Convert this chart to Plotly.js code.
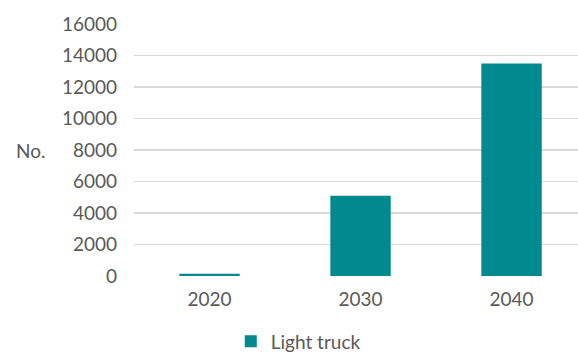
<!DOCTYPE html>
<html>
<head>
<meta charset="utf-8">
<script src="https://cdn.plot.ly/plotly-3.0.1.min.js"></script>
<style>html,body{margin:0;padding:0;background:#fff;}#chart{width:578px;height:356px;}</style>
</head>
<body>
<div id="chart"></div>
<script>
const categories = ["2020", "2030", "2040"];
const lightTruck = [150, 5100, 13500];
const yTicks = [0, 2000, 4000, 6000, 8000, 10000, 12000, 14000, 16000];
const seriesName = "Light truck";
const yTitle = "No.";

const font = {family: "Lato, 'Open Sans', sans-serif", size: 19, color: "#595959"};

Plotly.newPlot("chart", [{
  type: "bar",
  x: categories,
  y: lightTruck,
  name: seriesName,
  width: 0.4,
  marker: {color: "#00898E"},
  showlegend: true
}], {
  width: 578, height: 356,
  margin: {l: 134, r: 0, t: 24, b: 80, autoexpand: false},
  paper_bgcolor: "#fff", plot_bgcolor: "#fff",
  font: font,
  xaxis: {type: "category", range: [-0.5, 2.44], showgrid: false, zeroline: false, showline: false, ticks: "", ticklabelstandoff: 10, tickfont: font},
  yaxis: {range: [0, 16000], tickvals: yTicks, ticktext: yTicks.map(String), showgrid: true, gridcolor: "#d9d9d9", gridwidth: 1.5, zeroline: false, showline: false, ticks: "", ticklabelstandoff: 16, tickfont: font},
  annotations: [{text: yTitle, xref: "paper", yref: "paper", x: -0.195, y: 0.5, xanchor: "right", yanchor: "middle", showarrow: false, font: font}],
  showlegend: true,
  legend: {orientation: "h", x: 0.37, xanchor: "center", y: -0.26, yanchor: "middle", font: font, itemwidth: 30},
  bargap: 0.6
}, {staticPlot: true});
</script>
</body>
</html>
